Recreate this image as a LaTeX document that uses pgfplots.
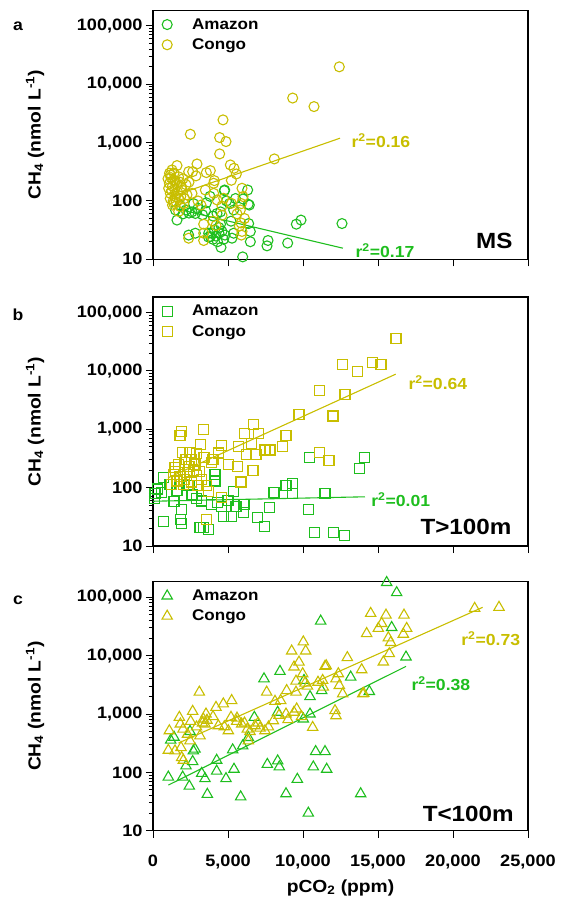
\documentclass[border=0pt]{standalone}
\usepackage{pgfplots}
\pgfplotsset{compat=1.18}
\usepackage{fontspec}
\setmainfont{Liberation Sans}[FakeStretch=1.1]
\definecolor{amz}{RGB}{30,190,30}
\definecolor{cgo}{RGB}{200,190,0}

\pgfplotsset{
  every axis/.append style={
    scale only axis, width=375bp, height=249bp,
    xmin=0, xmax=25000, ymin=10, ymax=1.85e5,
    scaled x ticks=false,
    axis line style={line width=1.3bp},
    tick pos=left, tick align=outside,
    major tick length=7bp, minor tick length=4bp,
    every tick/.style={black, line width=1bp},
    xtick={0,5000,10000,15000,20000,25000},
    ytick={10,100,1000,10000,100000},
    yticklabels={10,100,{1,000},{10,000},{100,000}},
    minor ytick={20,30,40,50,60,70,80,90,200,300,400,500,600,700,800,900,
      2000,3000,4000,5000,6000,7000,8000,9000,
      20000,30000,40000,50000,60000,70000,80000,90000},
    tick label style={font=\fontsize{16.5bp}{18bp}\selectfont\bfseries},
    xticklabel style={yshift=-14bp},
    ylabel={CH\textsubscript{4} (nmol L\textsuperscript{-1})},
    every axis y label/.style={at={(rel axis cs:0,0.5)}, xshift=-118bp, rotate=90, anchor=center,
      font=\fontsize{17.5bp}{19bp}\selectfont\bfseries},
    legend style={at={(rel axis cs:0,1)}, anchor=north west, draw=none, fill=none,
      font=\fontsize{15.5bp}{17bp}\selectfont\bfseries, row sep=4bp, xshift=3bp, yshift=-4bp},
    legend cell align=left,
  },
}
\pgfplotsset{
  legend image code/.code={\path[draw=none,fill=none] (0bp,-5bp) rectangle (31bp,5bp);
      \draw[mark repeat=2,mark phase=2,#1] plot coordinates {(0bp,0bp) (8bp,0bp) (16bp,0bp)};},
}
\tikzset{
  amzstyle/.style={only marks, color=amz, line width=1.1bp, mark options={line width=1.1bp}},
  cgostyle/.style={only marks, color=cgo, line width=1.1bp, mark options={line width=1.1bp}},
  fitline/.style={line width=1.1bp},
  rlab/.style={anchor=west, font=\fontsize{16bp}{18bp}\selectfont\bfseries},
  plab/.style={anchor=east, font=\fontsize{22bp}{24bp}\selectfont\bfseries},
}

\begin{document}
\begin{tikzpicture}

% panel a: MS
\begin{axis}[ymode=log, at={(153bp,-259.3bp)}, anchor=south west, xticklabels={}]
\addplot[amzstyle, mark=o, mark size=5bp] coordinates {
(5978,11) (4533,16) (4000,22) (4200,25) (4400,28) (4600,30) (4800,26) (4300,20) (4700,22)
(3700,24) (3900,28) (4100,32) (4778,154) (6311,154) (6000,108) (6422,85) (5378,70) (4267,61)
(2822,61) (2600,65) (1600,47) (2378,26) (2822,28) (3711,28) (3822,24.5) (5378,28) (5267,23)
(6378,41) (6489,30) (6489,20) (7667,21) (7600,17) (8978,19) (9556,40) (9867,47) (12600,41)
(4753,150) (3560,93) (6347,88) (2000,60) (2200,70) (2400,62) (3000,75) (3300,58) (3500,68)
(4000,55) (4500,65) (4900,100) (5100,90) (5500,110) (2700,90) (1800,85) (1500,70) (3800,120)
(5200,45) (4500,40) (4400,35)
};
\addplot[cgostyle, mark=o, mark size=5bp] coordinates {
(12420,19870) (9311,5800) (10733,4140) (4667,2450) (2489,1390) (4444,1220) (4867,1040)
(4444,640) (8089,525) (1600,404) (2933,430) (5156,414) (5400,363) (5556,290) (5222,226)
(3822,331) (3556,306) (4089,223) (4044,201) (2378,318) (2644,318) (2867,269) (1267,340)
(1156,279) (1378,229) (1044,165) (1156,135) (1489,119) (1933,154) (2267,127) (2600,135)
(1378,91) (1822,80) (1711,66) (3489,154) (4044,135) (4267,104) (4711,111) (4600,82) (4600,57)
(5222,91) (5933,165) (6000,119) (5822,70) (5867,42) (5756,37) (5933,30) (5889,26) (3378,40)
(3378,28) (3378,21) (2378,23) (1100,200) (1200,250) (1300,180) (1400,300) (1500,220)
(1600,190) (1700,260) (1800,210) (1900,175) (2000,240) (1250,150) (1450,160) (1650,140)
(1850,120) (2100,110) (1150,110) (1350,100) (1550,95) (1750,105) (2050,90) (1300,85)
(2200,190) (2400,210) (1000,240) (1100,300) (4000,45) (4200,38) (5600,60) (3000,100)
(3200,85) (6100,50) (5900,90)
};
\legend{Amazon,Congo}
\addplot[fitline, cgo, no marks, forget plot] coordinates {(1000,113) (12470,1190)};
\addplot[fitline, amz, no marks, forget plot] coordinates {(1700,72) (12660,15.5)};
\node[rlab, text=cgo] at (rel axis cs:0.52,0.476) {r\textsuperscript{2}=0.16};
\node[rlab, text=amz] at (rel axis cs:0.531,0.035) {r\textsuperscript{2}=0.17};
\node[plab] at (rel axis cs:0.968,0.075) {MS};
\end{axis}

% panel b: T>100m
\begin{axis}[ymode=log, at={(153bp,-546bp)}, anchor=south west, xticklabels={}]
\addplot[amzstyle, mark=square, mark size=5bp] coordinates {
(133,78.5) (578,84) (689,149) (1133,114) (1400,57) (1911,42) (689,26) (1844,28) (1911,24)
(3133,21) (3356,21) (3689,19) (3244,59) (3911,51) (4133,169) (4133,130) (4578,48) (4689,32)
(5244,32) (5356,87) (5533,47) (6067,51) (6022,38) (6956,31) (7422,21.6) (7756,45) (8067,82)
(8867,109) (9311,117) (9311,79) (10356,42) (10422,330) (11467,78.5) (10756,17) (12022,17)
(12756,15) (13756,215) (14089,330) (100,65) (300,95) (2400,110) (2900,65) (1600,90)
(5000,60) (4300,55) (2600,75)
};
\addplot[cgostyle, mark=square, mark size=5bp] coordinates {
(16200,36000) (12622,12700) (13644,9770) (14644,14000) (15200,13100) (11089,4700)
(12800,3950) (9733,1810) (12000,1690) (6689,1200) (6089,860) (7022,860) (8867,782)
(3356,980) (1911,917) (1800,782) (3178,546) (4578,525) (5689,505) (6578,561) (7467,442)
(7800,442) (8644,511) (6244,366) (6867,366) (11089,403) (11733,297) (1978,403) (2467,403)
(2911,380) (4356,392) (3911,270) (5044,253) (5644,227) (6667,196) (1467,221) (2133,270)
(2578,308) (2800,250) (1356,169) (1800,158) (1244,114) (2022,114) (2578,125) (3244,139)
(3000,110) (3578,107) (3689,85) (5867,125) (4578,67) (3578,28) (2300,180) (2700,200)
(2100,140) (1600,130) (2900,160) (3100,190) (2400,230) (2200,300) (1700,250) (3400,330)
(4000,300) (1500,190)
};
\legend{Amazon,Congo}
\addplot[fitline, cgo, no marks, forget plot] coordinates {(1000,147) (16180,8800)};
\addplot[fitline, amz, no marks, forget plot] coordinates {(0,58.5) (14133,69.7)};
\node[rlab, text=cgo] at (rel axis cs:0.672,0.656) {r\textsuperscript{2}=0.64};
\node[rlab, text=amz] at (rel axis cs:0.573,0.185) {r\textsuperscript{2}=0.01};
\node[plab] at (rel axis cs:0.965,0.076) {T>100m};
\end{axis}

% panel c: T<100m
\begin{axis}[ymode=log, at={(153bp,-830.7bp)}, anchor=south west,
  xticklabels={0,{5,000},{10,000},{15,000},{20,000},{25,000}},
  xlabel={pCO\textsubscript{2} (ppm)},
  every axis x label/.style={at={(rel axis cs:0.5,0)}, yshift=-57bp, anchor=center,
    font=\fontsize{17.5bp}{19bp}\selectfont\bfseries}]
\addplot[amzstyle, mark=triangle, mark size=6bp] coordinates {
(11178,39100) (8467,5370) (7400,4010) (10067,3760) (10467,1990) (8311,1070) (6756,877)
(10022,820) (10467,1000) (2467,502) (1178,356) (2689,233) (2800,250) (5311,243) (5978,284)
(6356,396) (10844,227) (11467,227) (4244,161) (2644,153) (2200,129) (1022,83) (1978,83)
(2422,58) (3244,96) (3467,78) (4244,105) (4867,78) (5400,113) (3622,42) (5844,38) (7622,137)
(8311,157) (8422,124) (9622,76) (8867,43) (10356,20) (10689,124) (11578,113) (15578,179000)
(16244,120000) (15911,30400) (16867,9480) (13178,4290) (14422,2430) (11244,2520) (13844,43)
(1400,400)
};
\addplot[cgostyle, mark=triangle, mark size=6bp] coordinates {
(10022,17200) (9244,12000) (10178,12000) (9733,7760) (9400,6380) (11467,6550) (11550,6700)
(9978,4900) (9533,3650) (10133,3380) (11311,3760) (11356,2880) (7578,2370) (8911,2520)
(9533,2370) (3089,2370) (5244,1700) (4689,1490) (4200,1300) (8133,1650) (8511,1700)
(2644,1110) (3533,1000) (1756,877) (2511,748) (3356,820) (3467,673) (1822,673) (4356,630)
(4756,605) (5200,877) (5578,748) (5911,673) (6289,551) (6800,630) (7133,574) (7467,516)
(8022,767) (8867,1000) (9400,1070) (9578,1220) (10644,589) (1089,516) (3133,423) (2467,347)
(1022,239) (1467,233) (1867,266) (1911,179) (2022,161) (6467,501) (6356,347) (5022,516)
(21444,64600) (23067,67300) (14511,53000) (15533,49500) (16733,49500) (15244,35600)
(15022,29300) (14244,23900) (16911,29300) (16689,23300) (15689,20200) (15844,16800)
(15756,10800) (15356,7780) (12956,9250) (13911,5740) (12356,4900) (12200,4010) (12422,3080)
(12644,2210) (13978,2210) (14050,2250) (12133,1140) (12200,935) (3300,700) (3600,780)
(4000,900) (2900,600) (2000,550) (2300,450) (5600,850) (6100,700) (7000,700) (7700,600)
(9000,800) (9900,900) (8400,950) (10300,3000) (11000,3500)
};
\legend{Amazon,Congo}
\addplot[fitline, cgo, no marks, forget plot] coordinates {(1700,318) (21978,67300)};
\addplot[fitline, amz, no marks, forget plot] coordinates {(1022,60.5) (16867,6550)};
\node[rlab, text=cgo] at (rel axis cs:0.813,0.77) {r\textsuperscript{2}=0.73};
\node[rlab, text=amz] at (rel axis cs:0.68,0.589) {r\textsuperscript{2}=0.38};
\node[plab] at (rel axis cs:0.971,0.067) {T<100m};
\end{axis}

\node[font=\fontsize{16bp}{18bp}\selectfont\bfseries] at (17.9bp,-26.7bp) {a};
\node[font=\fontsize{16bp}{18bp}\selectfont\bfseries] at (17.9bp,-315bp) {b};
\node[font=\fontsize{16bp}{18bp}\selectfont\bfseries] at (17.9bp,-600bp) {c};

\pgfresetboundingbox
\path[use as bounding box] (0bp,0bp) rectangle (561bp,-898bp);
\end{tikzpicture}
\end{document}
